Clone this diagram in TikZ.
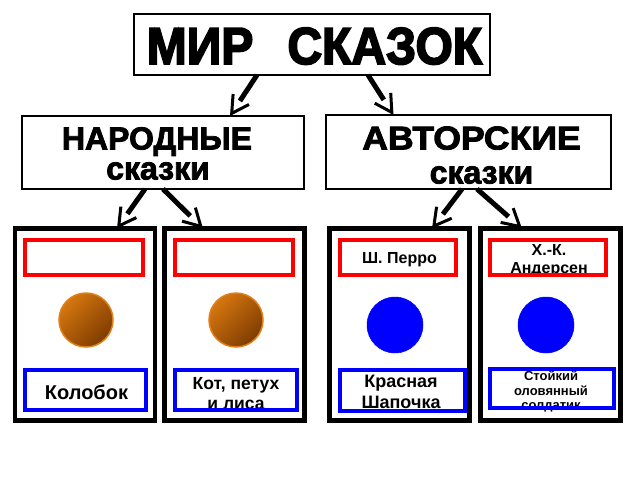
\documentclass[tikz,border=0pt]{standalone}
\usepackage{graphicx}
\usepackage{fontspec}
\setmainfont{Liberation Sans}
\newfontfamily\heavytitle[FakeBold=3.5]{Liberation Sans Bold}
\newfontfamily\heavyhead[FakeBold=2.5]{Liberation Sans Bold}
\usetikzlibrary{arrows.meta,calc,decorations.markings}
\definecolor{redbox}{RGB}{255,0,0}
\definecolor{bluebox}{RGB}{0,0,255}
\definecolor{brownA}{RGB}{214,118,16}
\definecolor{brownB}{RGB}{125,60,0}
\definecolor{brownrim}{RGB}{224,128,28}
\begin{document}
\begin{tikzpicture}[x=1pt,y=-1pt,
  headbox/.style={draw, line width=2.5pt, inner sep=0pt, outer sep=0pt},
  card/.style={draw, line width=4.5pt, inner sep=0pt, outer sep=0pt, minimum width=140pt, minimum height=192pt},
  redframe/.style={draw=redbox, line width=4pt, inner sep=0pt, outer sep=0pt, minimum height=35pt},
  blueframe/.style={draw=bluebox, line width=4pt, inner sep=0pt, outer sep=0pt},
  brownball/.style={circle, inner sep=0pt, minimum size=54pt, draw=brownrim, line width=1.5pt,
    top color=brownA, middle color=brownA, bottom color=brownB, shading angle=45},
  blueball/.style={circle, inner sep=0pt, minimum size=56pt, fill=bluebox, draw=bluebox, line width=0.5pt},
  txt/.style={anchor=base, inner sep=0pt, outer sep=0pt},
  conn/.style={line width=5pt, shorten >=18pt,
    postaction={decorate, decoration={markings, mark=at position 1 with {\arrow{Straight Barb[length=17pt,width=19pt,line width=3pt]}}}}},
]
\useasboundingbox (0,0) rectangle (640,480);
\fill[white] (0,0) rectangle (640,480);

% header boxes
\node[headbox, minimum width=356pt, minimum height=61pt] (top) at (312,44.5) {};
\node[headbox, minimum width=282pt, minimum height=73pt] (nar) at (163,152.5) {};
\node[headbox, minimum width=285pt, minimum height=74pt] (avt) at (468.5,152) {};

% header texts
\node[txt] (ttl) at (314.5,64) {\scalebox{0.923}[1]{\fontsize{52}{52}\heavytitle МИР\hspace{37pt}СКАЗОК}};
\node[txt, font=\fontsize{32}{32}\heavyhead] (na1) at (157,149.5) {НАРОДНЫЕ};
\node[txt, font=\fontsize{32}{32}\heavyhead] (na2) at (158,179.5) {сказки};
\node[txt] (av1) at (471.5,149.5) {\scalebox{1.08}[1]{\fontsize{33}{33}\heavyhead АВТОРСКИЕ}};
\node[txt, font=\fontsize{32}{32}\heavyhead] (av2) at (481.5,183.5) {сказки};

% cards
\node[card] (c1) at (85,324.5) {};
\node[card] (c2) at (234.5,324.5) {};
\node[card] (c3) at (399.5,324.5) {};
\node[card] (c4) at (550.5,324.5) {};

% balls
\node[brownball] (k1) at (86,320) {};
\node[brownball] (k2) at (236,320) {};
\node[blueball] (k3) at (395,325) {};
\node[blueball] (k4) at (546,325) {};

% card texts
\node[txt, font=\fontsize{20}{20}\selectfont\bfseries] (s1) at (86.5,399) {Колобок};
\node[txt, font=\fontsize{17.5}{17.5}\selectfont\bfseries] (s2a) at (236,389) {Кот, петух};
\node[txt, font=\fontsize{17.5}{17.5}\selectfont\bfseries] (s2b) at (236,409) {и лиса};
\node[txt, font=\fontsize{16}{16}\selectfont\bfseries] (a3) at (399.5,263) {Ш. Перро};
\node[txt, font=\fontsize{18}{18}\selectfont\bfseries] (s3a) at (401,387) {Красная};
\node[txt, font=\fontsize{18}{18}\selectfont\bfseries] (s3b) at (401,408) {Шапочка};
\node[txt, font=\fontsize{16}{16}\selectfont\bfseries] (a4a) at (549,255) {Х.-К.};
\node[txt, font=\fontsize{16}{16}\selectfont\bfseries] (a4b) at (549,273) {Андерсен};
\node[txt, font=\fontsize{13}{13}\selectfont\bfseries] (s4a) at (551,380) {Стойкий};
\node[txt, font=\fontsize{13}{13}\selectfont\bfseries] (s4b) at (551,395) {оловянный};
\node[txt, font=\fontsize{13}{13}\selectfont\bfseries] (s4c) at (551,409) {солдатик};

% frames
\node[redframe, minimum width=118pt] (r1) at (84,257.5) {};
\node[redframe, minimum width=118pt] (r2) at (234,257.5) {};
\node[redframe, minimum width=116pt] (r3) at (398,257.5) {};
\node[redframe, minimum width=116pt] (r4) at (548,257.5) {};
\node[blueframe, minimum width=121pt, minimum height=40pt] (b1) at (85.5,390) {};
\node[blueframe, minimum width=122pt, minimum height=40pt] (b2) at (236,390) {};
\node[blueframe, minimum width=125pt, minimum height=41pt] (b3) at (402.5,390.5) {};
\node[blueframe, minimum width=124pt, minimum height=39pt] (b4) at (552,388.5) {};

% connectors
\draw[conn] ($(top.south)+(-55,0)$) -- ($(nar.north)+(67,0)$);
\draw[conn] ($(top.south)+(56,0)$) -- ($(avt.north)+(-75,0)$);
\draw[conn] ($(nar.south)+(-18,0)$) -- ($(c1.north)+(32,0)$);
\draw[conn] ($(nar.south)+(0,0)$) -- ($(c2.north)+(-31.5,0)$);
\draw[conn] ($(avt.south)+(-6.5,0)$) -- ($(c3.north)+(32.5,0)$);
\draw[conn] ($(avt.south)+(8.5,0)$) -- ($(c4.north)+(-28.5,0)$);
\end{tikzpicture}
\end{document}
